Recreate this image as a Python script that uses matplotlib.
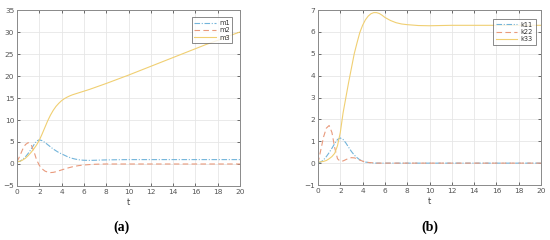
import matplotlib
matplotlib.use("Agg")
import matplotlib.pyplot as plt

t = [0, 0.25, 0.5, 0.75, 1, 1.25, 1.5, 1.75, 2, 2.25, 2.5, 2.75, 3, 3.25, 3.5, 3.75,
     4, 4.25, 4.5, 4.75, 5, 5.25, 5.5, 5.75, 6, 6.5, 7, 7.5, 8,
     9, 10, 11, 12, 13, 14, 15, 16, 17, 18, 19, 20]

m1 = [0.5, 0.6, 1.0, 1.6, 2.4, 3.3, 4.3, 5.2, 5.5, 5.3, 4.9, 4.4, 3.9, 3.4, 3.0, 2.6,
      2.3, 2.0, 1.7, 1.45, 1.25, 1.1, 0.98, 0.9, 0.85, 0.82, 0.85, 0.9, 0.93,
      0.97, 1.0, 1.0, 1.0, 1.0, 1.0, 1.0, 1.0, 1.0, 1.0, 1.0, 1.0]
m2 = [0.5, 1.8, 3.3, 4.4, 4.85, 4.5, 3.0, 1.0, -0.3, -1.1, -1.6, -1.85, -1.95, -1.9, -1.75, -1.55,
      -1.35, -1.15, -0.95, -0.78, -0.62, -0.5, -0.38, -0.3, -0.23, -0.13, -0.06, -0.02, 0.0,
      0.0, 0.0, 0.0, 0.0, 0.0, 0.0, 0.0, 0.0, 0.0, 0.0, 0.0, 0.0]
m3 = [0.5, 0.6, 0.9, 1.3, 1.9, 2.6, 3.4, 4.3, 5.4, 6.8, 8.3, 9.8, 11.1, 12.2, 13.1, 13.8,
      14.4, 14.85, 15.2, 15.5, 15.75, 15.95, 16.15, 16.35, 16.55, 16.95, 17.4, 17.85, 18.3,
      19.25, 20.2, 21.2, 22.2, 23.2, 24.2, 25.2, 26.2, 27.2, 28.1, 29.1, 30.0]

k11 = [0.0, 0.05, 0.15, 0.3, 0.48, 0.68, 0.9, 1.08, 1.15, 1.08, 0.92, 0.72, 0.53, 0.37, 0.25, 0.15,
       0.09, 0.05, 0.03, 0.015, 0.005, 0.0, 0.0, 0.0, 0.0, 0.0, 0.0, 0.0, 0.0,
       0.0, 0.0, 0.0, 0.0, 0.0, 0.0, 0.0, 0.0, 0.0, 0.0, 0.0, 0.0]
k22 = [0.0, 0.6, 1.2, 1.6, 1.72, 1.4, 0.7, 0.2, 0.08, 0.1, 0.16, 0.22, 0.25, 0.24, 0.2, 0.14,
       0.09, 0.05, 0.03, 0.02, 0.01, 0.0, 0.0, 0.0, 0.0, 0.0, 0.0, 0.0, 0.0,
       0.0, 0.0, 0.0, 0.0, 0.0, 0.0, 0.0, 0.0, 0.0, 0.0, 0.0, 0.0]
k33 = [0.05, 0.06, 0.08, 0.12, 0.2, 0.3, 0.45, 0.8, 1.4, 2.3, 3.0, 3.7, 4.35, 5.0, 5.5, 5.97,
       6.3, 6.55, 6.72, 6.83, 6.88, 6.88, 6.84, 6.76, 6.66, 6.52, 6.42, 6.36, 6.33,
       6.29, 6.28, 6.29, 6.3, 6.3, 6.3, 6.3, 6.3, 6.3, 6.3, 6.3, 6.3]

xticks = [0, 2, 4, 6, 8, 10, 12, 14, 16, 18, 20]
yticks_a = [-5, 0, 5, 10, 15, 20, 25, 30, 35]
yticks_b = [-1, 0, 1, 2, 3, 4, 5, 6, 7]
names_a = ["m1", "m2", "m3"]
names_b = ["k11", "k22", "k33"]
caption = ["(a)", "(b)"]

c_blue = "#72b4da"
c_orange = "#e99a7c"
c_yellow = "#f0cf72"
styles = [dict(color=c_blue, ls=(0, (5, 1.5, 1, 1.5))),
          dict(color=c_orange, ls=(0, (5, 3))),
          dict(color=c_yellow, ls="-")]

fig = plt.figure(figsize=(5.5, 2.4), dpi=100)
axA = fig.add_axes([17 / 550, 1 - 186 / 240, 223 / 550, 176 / 240])
axB = fig.add_axes([318 / 550, 1 - 185 / 240, 223 / 550, 175 / 240])

def style_ax(ax, yticks, ylim):
    ax.set_xlim(0, 20)
    ax.set_ylim(*ylim)
    ax.set_xticks(xticks)
    ax.set_yticks(yticks)
    ax.grid(True, color="#e6e6e6", lw=0.6)
    ax.set_axisbelow(True)
    ax.tick_params(direction="in", length=2.5, width=0.6, labelsize=5.3,
                   colors="#555555", top=True, right=True, pad=2)
    for s in ax.spines.values():
        s.set_color("#8a8a8a")
        s.set_linewidth(0.7)
    ax.set_xlabel("t", fontsize=6, color="#444444", labelpad=2)

legend_anchor = {"a": (0.975, 0.97), "b": (0.985, 0.96)}
for key, ax, series, names, yt, yl in [("a", axA, [m1, m2, m3], names_a, yticks_a, (-5, 35)),
                                       ("b", axB, [k11, k22, k33], names_b, yticks_b, (-1, 7))]:
    for y, n, st in zip(series, names, styles):
        ax.plot(t, y, lw=0.8, label=n, **st)
    style_ax(ax, yt, yl)
    leg = ax.legend(loc="upper right", bbox_to_anchor=legend_anchor[key],
                    fontsize=4.8, frameon=True, fancybox=False,
                    handlelength=3.2, borderpad=0.4, labelspacing=0.2,
                    handletextpad=0.5, borderaxespad=0.3)
    leg.get_frame().set_edgecolor("#555555")
    leg.get_frame().set_linewidth(0.6)
    for tx in leg.get_texts():
        tx.set_color("#333333")

fig.text(122 / 550, 1 - 227 / 240, caption[0], ha="center", va="center",
         fontsize=10, fontweight="bold", family="Liberation Serif")
fig.text(430 / 550, 1 - 227 / 240, caption[1], ha="center", va="center",
         fontsize=10, fontweight="bold", family="Liberation Serif")

fig.savefig("out.png", dpi=100)
